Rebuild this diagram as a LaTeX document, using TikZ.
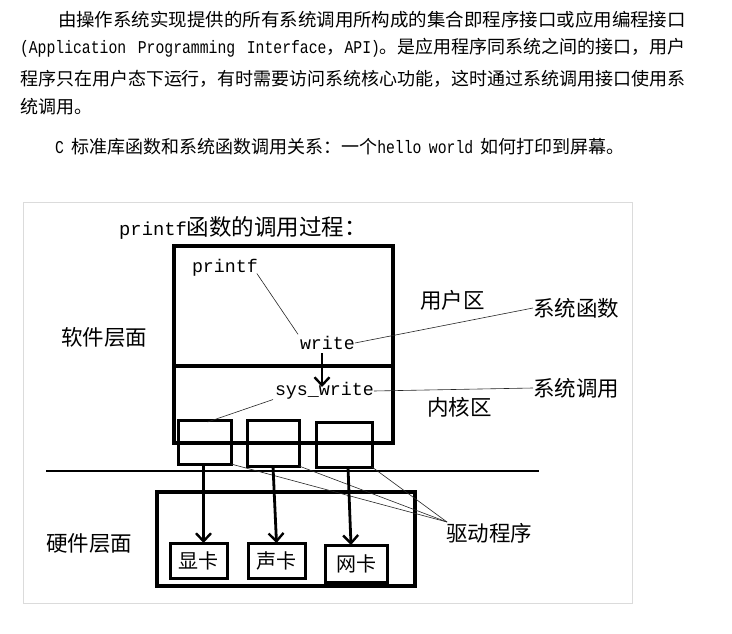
\documentclass[tikz,border=0pt]{standalone}
\usepackage{graphicx}
\usepackage{fontspec}
\setmainfont{Liberation Serif}
\newfontfamily\cjk{Noto Sans CJK SC}
\newfontfamily\mono{Liberation Mono}
\usetikzlibrary{arrows.meta}
\newcommand{\lat}[1]{\scalebox{0.82}[1]{\mono\fontsize{18}{20}\selectfont #1}}
\newcommand{\latsp}{\hspace{7.4pt plus 1pt}}
\tikzset{
  para/.style={anchor=west, inner sep=0pt, outer sep=0pt, font=\cjk\fontsize{18}{20}\selectfont},
  lbl/.style={anchor=west, inner sep=0pt, outer sep=0pt, font=\cjk\fontsize{21.5}{24}\selectfont},
  codetxt/.style={anchor=west, inner sep=0pt, outer sep=0pt, font=\mono\fontsize{18.3}{20}\selectfont},
  bigbox/.style={draw, line width=4pt, inner sep=0pt, outer sep=0pt, anchor=north west},
  drvbox/.style={draw, line width=3pt, inner sep=0pt, outer sep=0pt, anchor=north west},
  cardbox/.style={draw, line width=3pt, inner sep=0pt, outer sep=0pt, anchor=north west,
                  font=\cjk\fontsize{20}{22}\selectfont},
  thinline/.style={line width=0.6pt, black!85},
  callarrow/.style={line width=2.8pt, -{Straight Barb[length=8pt,width=15pt,line width=2.4pt]}},
  frame/.style={draw=black!14, line width=1pt},
}
\begin{document}
\begin{tikzpicture}[x=1pt,y=-1pt]
\useasboundingbox (0,0) rectangle (732,634);
\fill[white] (0,0) rectangle (732,634);

% paragraph text
\node[para] (l1) at (58,20) {\scalebox{1.026}[1]{由操作系统实现提供的所有系统调用所构成的集合即程序接口或应用编程接口}};
\node[para] (l2) at (20,48) {\hbox to 666pt{\lat{(Application}\latsp\lat{Programming}\latsp\lat{Interface}，\lat{API)}。是应用程序同系统之间的接口，用户}};
\node[para] (l3) at (20,79) {程序只在用户态下运行，有时需要访问系统核心功能，这时通过系统调用接口使用系};
\node[para] (l4) at (20,107) {统调用。};
\node[para] (l5) at (55,147) {\lat{C}\latsp 标准库函数和系统函数调用关系：一个\lat{hello}\latsp\lat{world}\latsp 如何打印到屏幕。};

% outer frame
\node[frame, anchor=north west, inner sep=0pt, outer sep=0pt, minimum width=609pt, minimum height=401pt] (fr) at (23,202) {};

% title
\node[anchor=west, inner sep=0pt] (title) at (119,228)
  {{\mono\fontsize{18.8}{20}\selectfont printf}{\cjk\fontsize{22.5}{24}\selectfont 函数的调用过程：}};

% program box with divider
\node[bigbox, minimum width=219pt, minimum height=197pt] (prog) at (174,246) {};
\coordinate (divl) at (174,366);
\coordinate (divr) at (393,366);
\draw[line width=4pt] (divl) -- (divr);

% code texts
\node[codetxt] (printf) at (192,268) {printf};
\node[codetxt] (write) at (300,343) {write};
\node[codetxt] (syswrite) at (275,391) {sys\_write};

% labels
\node[lbl] (soft) at (61,337) {软件层面};
\node[lbl] (user) at (420,300) {用户区};
\node[lbl] (kern) at (427,407) {内核区};
\node[lbl] (sysfn) at (533,308) {系统函数};
\node[lbl] (syscall) at (533,388) {系统调用};
\node[lbl] (hard) at (46,543) {硬件层面};
\node[lbl] (drv) at (446,533) {驱动程序};

% driver boxes
\node[drvbox, minimum width=53pt, minimum height=44pt] (b1) at (178,420) {};
\node[drvbox, minimum width=52pt, minimum height=46pt] (b2) at (247,420) {};
\node[drvbox, minimum width=56pt, minimum height=45pt] (b3) at (316,422) {};

% separation line
\coordinate (sepl) at (46,471);
\coordinate (sepr) at (539,471);
\draw[line width=1.8pt] (sepl) -- (sepr);

% hardware box and cards
\node[bigbox, line width=3.5pt, minimum width=258pt, minimum height=94pt] (hw) at (157,492) {};
\node[cardbox, minimum width=57pt, minimum height=35pt] (xk) at (170,543) {显卡};
\node[cardbox, minimum width=57pt, minimum height=35pt] (sk) at (248,543) {声卡};
\node[cardbox, minimum width=62pt, minimum height=37pt] (wk) at (325,545) {网卡};

% thin connectors
\draw[thinline] ([xshift=-1pt,yshift=3pt]printf.south east) -- ([xshift=-2pt,yshift=2pt]write.north west);
\draw[thinline] (write.east) -- (sysfn.west);
\draw[thinline] (syswrite.east) -- (syscall.west);
\draw[thinline] ([xshift=-2pt]syswrite.south west) -- ([xshift=3pt,yshift=-2pt]b1.north);
\coordinate (drvpt) at (447,522);
\draw[thinline] (b1.south east) -- (drvpt);
\draw[thinline] (b2.south east) -- (drvpt);
\draw[thinline] (b3.south east) -- (drvpt);

% call arrows
\coordinate (wa) at (322,353);
\coordinate (wb) at (322,387);
\draw[callarrow] (wa) -- (wb);
\draw[callarrow] ([xshift=-1pt]b1.south) -- ([xshift=5pt]xk.north);
\draw[callarrow] (b2.south) -- (sk.north);
\draw[callarrow] ([xshift=4pt]b3.south) -- ([xshift=-5pt]wk.north);
\end{tikzpicture}
\end{document}
